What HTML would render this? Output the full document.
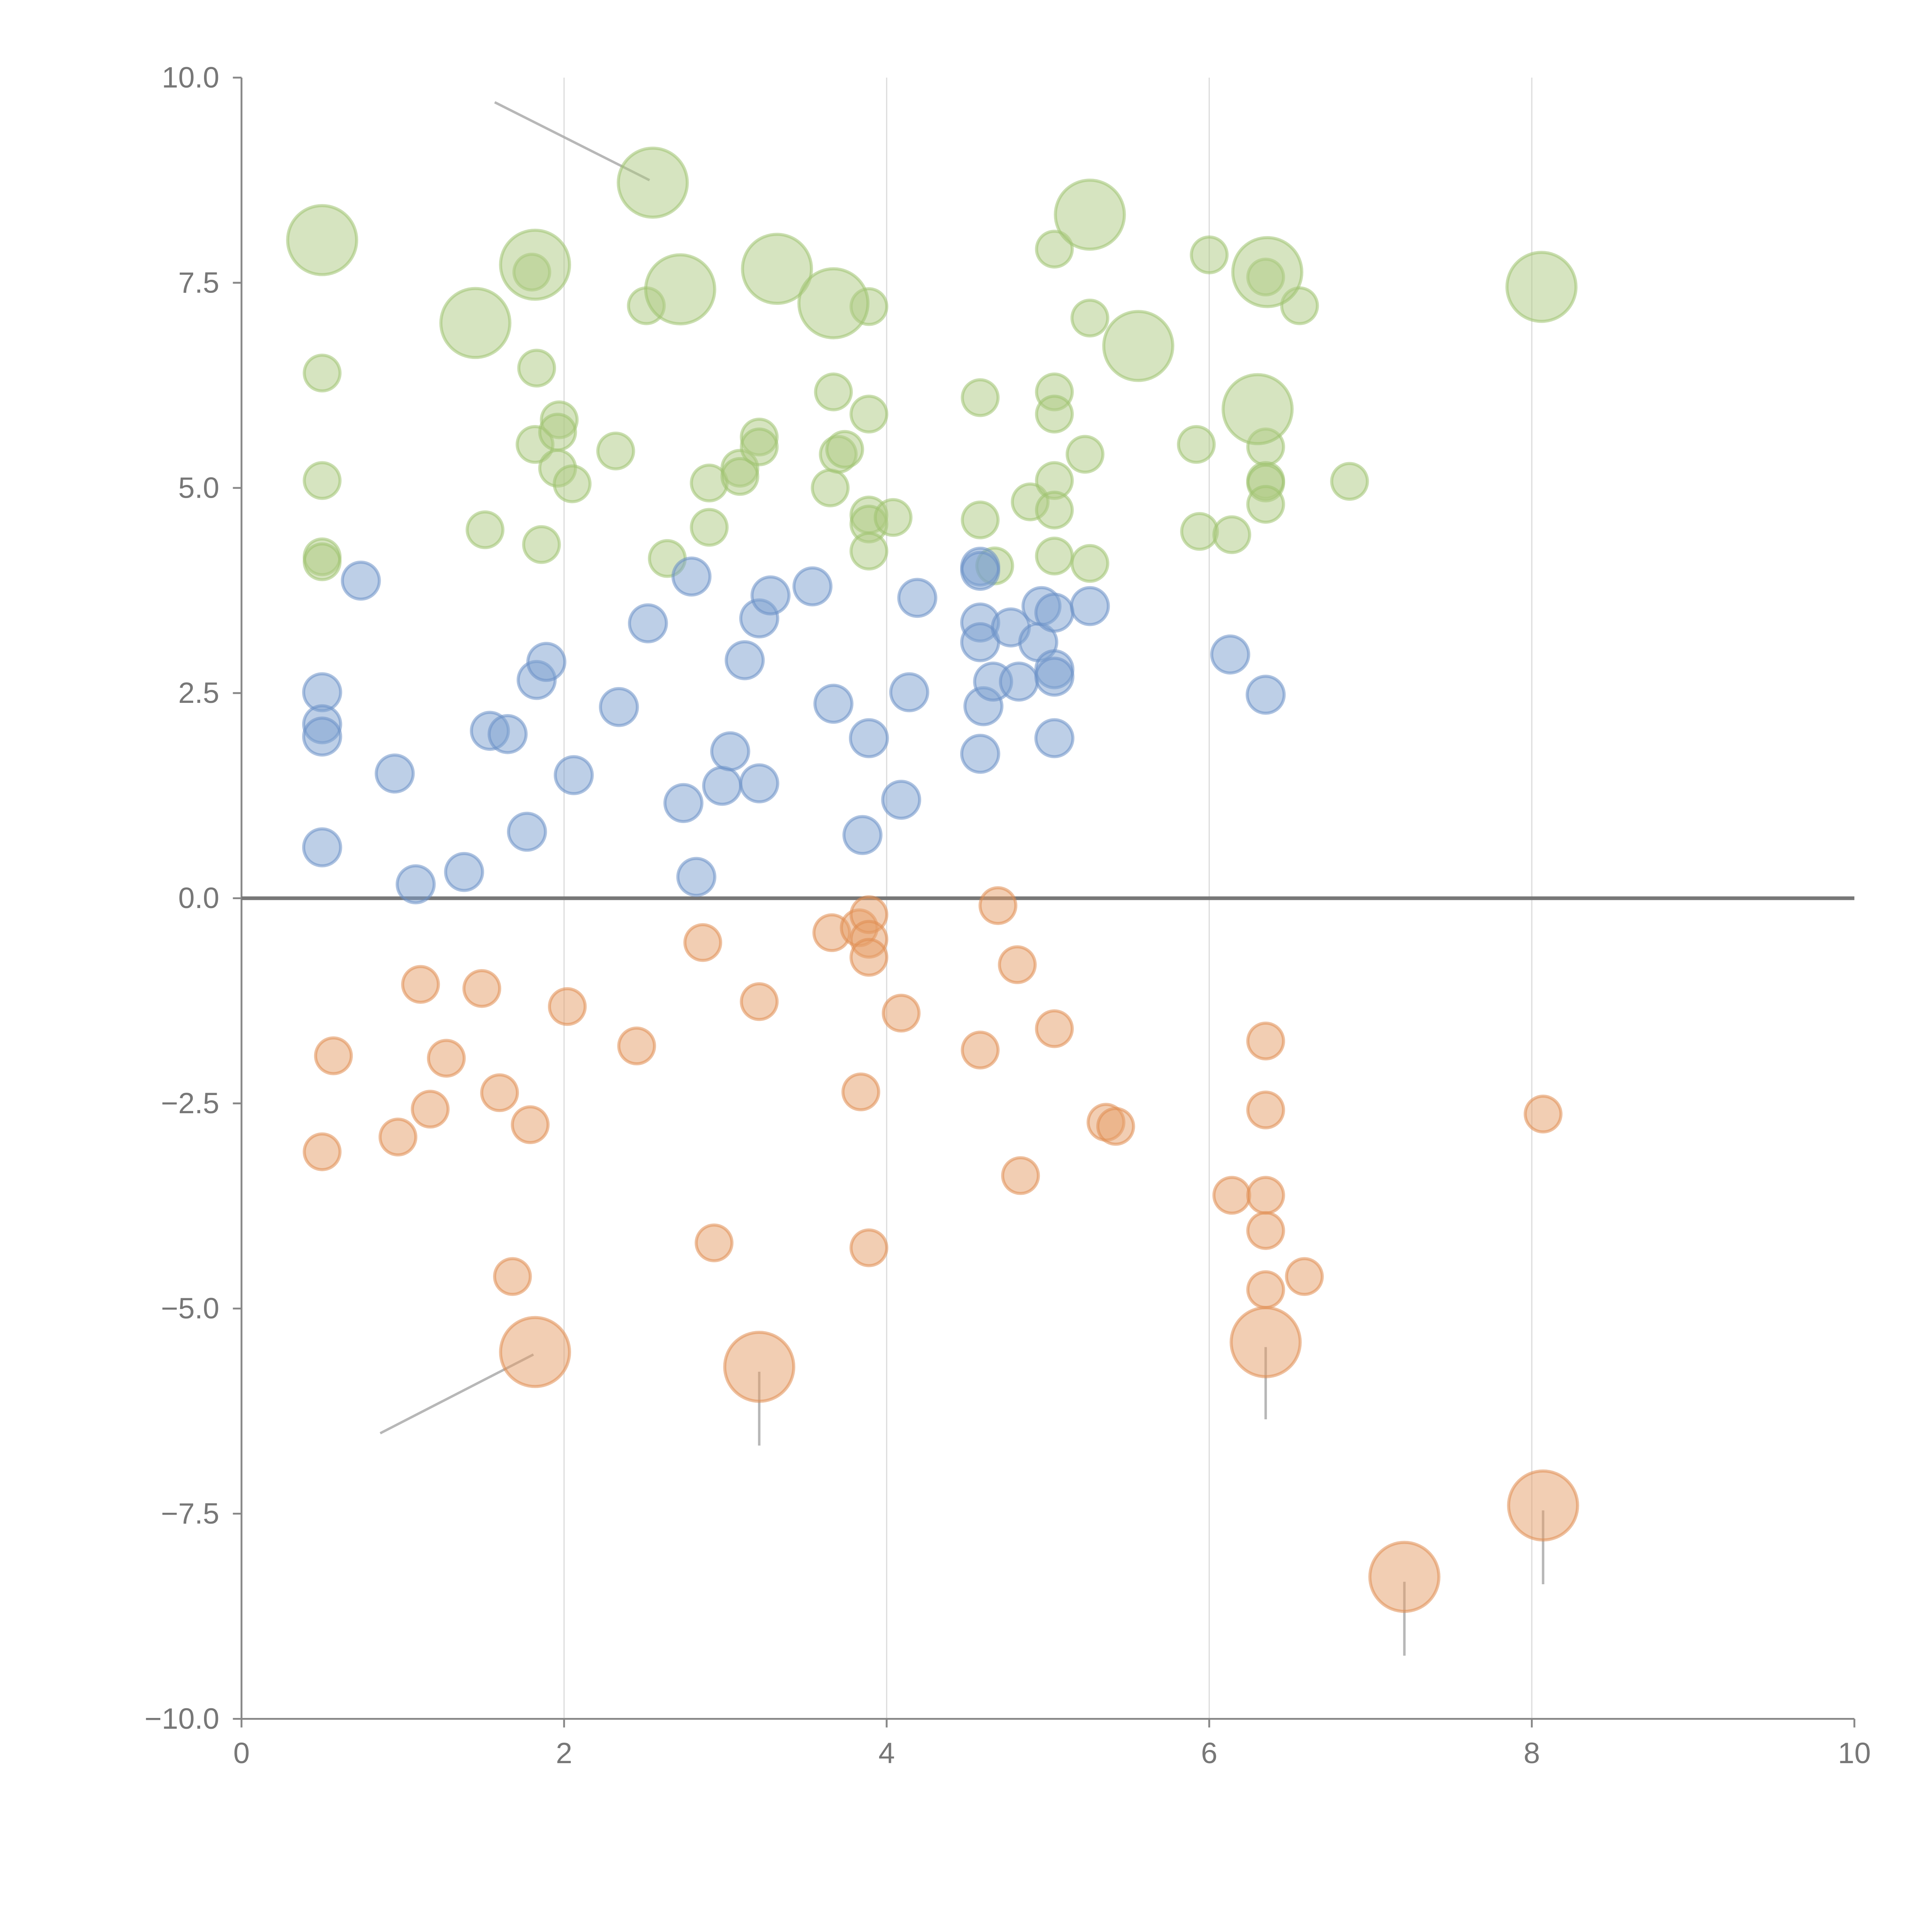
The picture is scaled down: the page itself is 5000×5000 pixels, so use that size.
<!DOCTYPE html>
<html><head><meta charset="utf-8"><style>
html,body{margin:0;padding:0;background:#fff;}
svg{display:block;}
text{font-family:"Liberation Sans",sans-serif;}
</style></head><body>
<svg id="chart" width="5000" height="5000" viewBox="0 0 1568 1568" xmlns="http://www.w3.org/2000/svg">
<g id="grid"></g>
<g id="axes"></g>
<g id="leaders"></g>
<g id="marks"></g>
</svg>
<script>
const greenX=[0.50,0.50,0.50,0.50,1.51,1.80,1.83,1.82,1.97,1.96,1.96,2.05,1.86,2.32,2.51,2.64,2.90,2.90,3.09,3.09,3.21,3.21,3.67,3.65,3.70,3.74,3.89,3.89,3.89,3.89,3.89,4.04,4.58,4.58,4.67,4.89,5.04,5.04,5.04,5.04,5.04,5.04,5.23,5.26,5.26,5.92,5.94,6.00,6.14,6.35,6.35,6.35,6.35,6.35,6.56,6.87,
0.50,1.45,1.82,2.55,2.72,3.32,3.67,5.26,5.56,6.30,6.36,8.06];
const greenY=[6.40,5.09,4.16,4.10,4.49,7.63,6.46,5.53,5.83,5.68,5.24,5.05,4.31,5.45,7.22,4.14,5.06,4.52,5.24,5.14,5.62,5.50,6.17,5.00,5.41,5.47,7.21,5.90,4.67,4.56,4.23,4.64,6.10,4.61,4.05,4.83,7.91,6.17,5.90,5.09,4.73,4.17,5.41,7.07,4.08,5.53,4.47,7.84,4.43,7.57,5.50,5.09,5.06,4.80,7.22,5.08,
8.02,7.01,7.72,8.72,7.42,7.67,7.25,8.33,6.73,5.96,7.63,7.45];
const greenSize=[1,1,1,1,1,1,1,1,1,1,1,1,1,1,1,1,1,1,1,1,1,1,1,1,1,1,1,1,1,1,1,1,1,1,1,1,1,1,1,1,1,1,1,1,1,1,1,1,1,1,1,1,1,1,1,1,
2,2,2,2,2,2,2,2,2,2,2,2];
const blueX=[0.74,0.50,0.50,0.50,0.50,0.95,1.08,1.38,1.54,1.65,1.77,1.83,1.89,2.06,2.34,2.52,2.74,2.79,2.82,2.98,3.03,3.12,3.21,3.21,3.28,3.54,3.67,3.85,3.89,4.09,4.14,4.19,4.58,4.58,4.58,4.58,4.60,4.58,4.66,4.77,4.82,4.94,4.96,5.04,5.04,5.04,5.04,5.26,6.13,6.35];
const blueY=[3.87,2.51,2.12,1.97,0.62,1.52,0.17,0.32,2.04,2.00,0.81,2.66,2.88,1.50,2.33,3.35,1.16,3.92,0.26,1.37,1.79,2.90,3.41,1.40,3.69,3.80,2.37,0.77,1.95,1.20,2.51,3.66,4.04,3.99,3.36,3.12,2.34,1.76,2.64,3.30,2.64,3.12,3.56,3.48,2.79,2.70,1.95,3.56,2.97,2.48];
const orangeX=[0.50,0.57,0.97,1.11,1.17,1.27,1.49,1.60,1.68,1.79,2.02,2.45,2.86,2.93,3.21,3.66,3.83,3.84,3.89,3.89,3.89,3.89,4.09,4.58,4.69,4.81,4.83,5.04,5.36,5.42,6.14,6.35,6.35,6.35,6.35,6.35,6.59,8.07,
1.82,3.21,6.35,7.21,8.07];
const orangeY=[-3.09,-1.92,-2.91,-1.05,-2.57,-1.95,-1.10,-2.37,-4.61,-2.76,-1.32,-1.80,-0.54,-4.20,-1.26,-0.42,-0.36,-2.36,-0.20,-0.50,-0.72,-4.26,-1.40,-1.85,-0.09,-0.81,-3.38,-1.59,-2.73,-2.78,-3.62,-1.74,-2.58,-3.62,-4.05,-4.77,-4.61,-2.63,
-5.53,-5.71,-5.41,-8.27,-7.40];
const orangeSize=[1,1,1,1,1,1,1,1,1,1,1,1,1,1,1,1,1,1,1,1,1,1,1,1,1,1,1,1,1,1,1,1,1,1,1,1,1,1,2,2,2,2,2];
const xTicks=[0,2,4,6,8,10];
const xTickLabels=["0","2","4","6","8","10"];
const yTicks=[-10,-7.5,-5,-2.5,0,2.5,5,7.5,10];
const yTickLabels=["\u221210.0","\u22127.5","\u22125.0","\u22122.5","0.0","2.5","5.0","7.5","10.0"];

const NS="http://www.w3.org/2000/svg";
const X0=196,X1=1505,Y0=1395,Y1=63;
const sx=v=>X0+(v-0)/(10-0)*(X1-X0);
const sy=v=>Y0-(v+10)/20*(Y0-Y1);
function mk(tag,attrs,parent){const e=document.createElementNS(NS,tag);for(const k in attrs)e.setAttribute(k,attrs[k]);parent.appendChild(e);return e;}
const grid=document.getElementById('grid'),axes=document.getElementById('axes'),marks=document.getElementById('marks'),leaders=document.getElementById('leaders');

xTicks.forEach((t,i)=>{
  if(t>0&&t<10){const g=mk('line',{x1:sx(t),x2:sx(t),y1:Y1,y2:Y0,stroke:'#dddddd','stroke-width':1},grid);
  
  }
  const tk=mk('line',{x1:sx(t),x2:sx(t),y1:Y0,y2:Y0+7,stroke:'#888','stroke-width':1.5},axes);
  
  
  const lb=mk('text',{x:sx(t),y:Y0+36,'text-anchor':'middle','font-size':24,fill:'#777'},axes);
  lb.textContent=xTickLabels[i];
  
  
});
yTicks.forEach((t,i)=>{
  const tk=mk('line',{x1:X0-7,x2:X0,y1:sy(t),y2:sy(t),stroke:'#888','stroke-width':1.5},axes);
  
  
  const lb=mk('text',{x:X0-18,y:sy(t)+8,'text-anchor':'end','font-size':24,fill:'#777'},axes);
  lb.textContent=yTickLabels[i];
  
  
});
const ya=mk('line',{x1:X0,x2:X0,y1:Y1,y2:Y0,stroke:'#888','stroke-width':1.5},axes);


const xa=mk('line',{x1:X0,x2:X1,y1:Y0,y2:Y0,stroke:'#888','stroke-width':1.5},axes);


const zl=mk('line',{x1:X0,x2:X1,y1:sy(0),y2:sy(0),stroke:'#777','stroke-width':3},axes);



function series(xs,ys,sizes,fill,stroke,name){
  xs.forEach((x,i)=>{
    const r=sizes?(sizes[i]===2?28:14.5):15;
    const c=mk('circle',{cx:sx(x),cy:sy(ys[i]),r:r,fill:fill,'fill-opacity':0.5,stroke:stroke,'stroke-opacity':0.55,'stroke-width':2.5},marks);
    
    
  });
}
series(greenX,greenY,greenSize,'#adc981','#9fc270','bubble-green');
series(blueX,blueY,null,'#7b9fd0','#6a90c6','bubble-blue');
series(orangeX,orangeY,orangeSize,'#e59d68','#e08c50','bubble-orange');

const leaderSegs=[[1.57,9.70,2.53,8.75],[0.86,-6.52,1.81,-5.56],[3.21,-5.77,3.21,-6.67],[6.35,-5.47,6.35,-6.35],[7.21,-8.33,7.21,-9.23],[8.07,-7.46,8.07,-8.36]];
leaderSegs.forEach(s=>{
  const l=mk('line',{x1:sx(s[0]),y1:sy(s[1]),x2:sx(s[2]),y2:sy(s[3]),stroke:'#aaa','stroke-width':2,'stroke-opacity':0.85},leaders);
  
  
});
</script>
</body></html>
